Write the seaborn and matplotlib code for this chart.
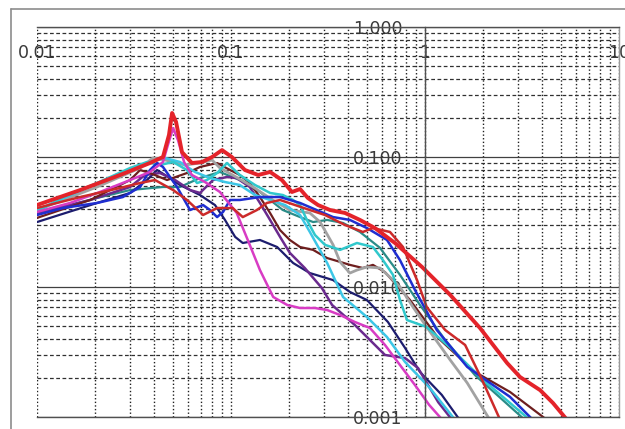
import matplotlib
matplotlib.use("Agg")
import matplotlib.pyplot as plt
import matplotlib.ticker as mticker
from matplotlib.lines import Line2D
import seaborn as sns
import pandas as pd

# ---------------- data ----------------
red_x = [0.010, 0.0167, 0.0268, 0.0382, 0.0446, 0.0479, 0.0497, 0.0521, 0.0559, 0.0629,
         0.0709, 0.0799, 0.0899, 0.101, 0.118, 0.138, 0.159, 0.183, 0.206, 0.227, 0.249,
         0.281, 0.324, 0.387, 0.462, 0.552, 0.700, 0.965, 1.35, 1.92, 2.65, 3.09, 3.92,
         4.57, 5.40]
red_y = [0.0427, 0.0557, 0.0727, 0.0899, 0.100, 0.148, 0.218, 0.186, 0.109, 0.0899,
         0.0915, 0.100, 0.113, 0.100, 0.0794, 0.0727, 0.0767, 0.0665, 0.0538, 0.0567,
         0.0484, 0.0427, 0.0391, 0.0371, 0.0328, 0.0284, 0.0218, 0.01426, 0.00868,
         0.00484, 0.0026, 0.00203, 0.00161, 0.00128, 0.00095]

crimson_x = [0.010, 0.0167, 0.0268, 0.034, 0.0406, 0.0503, 0.0593, 0.0718, 0.0848, 0.102,
             0.115, 0.136, 0.153, 0.179, 0.214, 0.255, 0.305, 0.387, 0.478, 0.539, 0.660,
             0.770, 0.910, 1.02, 1.27, 1.61, 1.97, 2.44]
crimson_y = [0.0405, 0.0492, 0.0578, 0.0631, 0.0665, 0.0557, 0.0467, 0.0358, 0.0405,
             0.0405, 0.0345, 0.0391, 0.0443, 0.0467, 0.0427, 0.0391, 0.0358, 0.030,
             0.0265, 0.0284, 0.0265, 0.0203, 0.0113, 0.00702, 0.00467, 0.00358, 0.00193,
             0.00095]

magenta_x = [0.010, 0.0148, 0.0211, 0.0302, 0.0382, 0.0446, 0.0473, 0.0503, 0.0533, 0.0573,
             0.0629, 0.0734, 0.0877, 0.107, 0.122, 0.141, 0.165, 0.195, 0.227, 0.271,
             0.313, 0.365, 0.435, 0.520, 0.622, 0.743, 0.888, 1.05, 1.27]
magenta_y = [0.0378, 0.0443, 0.0538, 0.0665, 0.0767, 0.0915, 0.124, 0.167, 0.135, 0.0915,
             0.0727, 0.0642, 0.0538, 0.0371, 0.023, 0.0135, 0.00838, 0.00727, 0.00689,
             0.00689, 0.00665, 0.00609, 0.00538, 0.00484, 0.00358, 0.00251, 0.00176,
             0.00124, 0.0009]

cyan_x = [0.010, 0.0136, 0.0204, 0.0302, 0.0369, 0.043, 0.0503, 0.0593, 0.0668, 0.0752,
          0.0848, 0.0954, 0.111, 0.133, 0.159, 0.185, 0.209, 0.227, 0.246, 0.271, 0.305,
          0.365, 0.446, 0.539, 0.607, 0.684, 0.743, 0.808, 1.02, 1.39, 1.99, 3.47]
cyan_y = [0.0378, 0.0492, 0.0631, 0.0823, 0.0915, 0.0868, 0.0915, 0.0794, 0.0631, 0.0665,
          0.0753, 0.0899, 0.0727, 0.0609, 0.0529, 0.051, 0.0467, 0.0427, 0.0328, 0.0251,
          0.0211, 0.0193, 0.0218, 0.0203, 0.0161, 0.0124, 0.00794, 0.00557, 0.00492,
          0.00328, 0.00193, 0.00095]

sky_x = [0.010, 0.0211, 0.0382, 0.0457, 0.0546, 0.0652, 0.078, 0.0931, 0.111, 0.133,
         0.159, 0.190, 0.227, 0.255, 0.313, 0.378, 0.502, 0.637, 0.789, 1.06, 1.43]
sky_y = [0.0391, 0.0642, 0.0915, 0.0982, 0.0915, 0.0767, 0.0689, 0.0642, 0.0609, 0.051,
         0.0467, 0.0427, 0.0358, 0.0265, 0.0153, 0.00838, 0.00588, 0.00412, 0.00265,
         0.00167, 0.00095]

gray_x = [0.010, 0.0204, 0.034, 0.0396, 0.0457, 0.058, 0.0692, 0.0799, 0.0877, 0.102,
          0.130, 0.164, 0.201, 0.255, 0.288, 0.336, 0.365, 0.410, 0.446, 0.502, 0.586,
          0.660, 0.743, 0.867, 1.02, 1.35, 1.65, 2.16]
gray_y = [0.0391, 0.0588, 0.0823, 0.0982, 0.0948, 0.0868, 0.0899, 0.0948, 0.0823, 0.0727,
          0.0588, 0.0467, 0.0391, 0.0371, 0.0316, 0.0211, 0.0156, 0.0128, 0.0135, 0.01426,
          0.014, 0.0119, 0.010, 0.00702, 0.00492, 0.00274, 0.00183, 0.00095]

brown_x = [0.010, 0.0188, 0.0302, 0.034, 0.0382, 0.0468, 0.0593, 0.0692, 0.0848, 0.0989,
           0.111, 0.125, 0.141, 0.159, 0.179, 0.201, 0.227, 0.265, 0.313, 0.365, 0.410,
           0.478, 0.539, 0.622, 0.837, 1.17, 1.81, 2.74, 4.25]
brown_y = [0.034, 0.0467, 0.0665, 0.0794, 0.0753, 0.0665, 0.0753, 0.0838, 0.0899, 0.0794,
           0.0727, 0.0631, 0.0492, 0.0371, 0.0274, 0.023, 0.0203, 0.0193, 0.0167, 0.0156,
           0.0148, 0.014, 0.0148, 0.0130, 0.00794, 0.00405, 0.00222, 0.00156, 0.00095]

navy_x = [0.010, 0.0204, 0.0302, 0.0369, 0.0416, 0.0457, 0.0546, 0.0692, 0.0827, 0.0931,
          0.105, 0.115, 0.141, 0.173, 0.209, 0.255, 0.336, 0.410, 0.502, 0.644, 0.789,
          0.942, 1.22, 1.51]
navy_y = [0.0316, 0.0443, 0.0529, 0.0665, 0.0794, 0.0727, 0.0609, 0.051, 0.0427, 0.0328,
          0.0243, 0.0218, 0.023, 0.0203, 0.0153, 0.0128, 0.0113, 0.00916, 0.00794,
          0.00538, 0.0034, 0.00222, 0.00148, 0.00095]

blue_x = [0.010, 0.0136, 0.0204, 0.0277, 0.034, 0.0382, 0.0416, 0.0446, 0.0527, 0.0615,
          0.0718, 0.078, 0.0848, 0.0910, 0.0989, 0.111, 0.141, 0.179, 0.227, 0.336, 0.410,
          0.502, 0.637, 0.743, 0.888, 1.15, 1.65, 2.16, 2.74, 3.60]
blue_y = [0.0358, 0.0405, 0.0443, 0.0492, 0.0588, 0.0794, 0.0899, 0.0838, 0.0588, 0.0391,
          0.0427, 0.0391, 0.0345, 0.0378, 0.0467, 0.0467, 0.0492, 0.0492, 0.0443, 0.0345,
          0.0328, 0.0284, 0.023, 0.0161, 0.00948, 0.00467, 0.00243, 0.00183, 0.00143,
          0.00095]

purple_x = [0.010, 0.0188, 0.0302, 0.036, 0.043, 0.0515, 0.0615, 0.0692, 0.0808, 0.0954,
            0.107, 0.125, 0.141, 0.159, 0.179, 0.201, 0.240, 0.294, 0.332, 0.435, 0.622,
            0.789, 0.921, 1.17, 1.38]
purple_y = [0.0371, 0.0467, 0.0588, 0.0727, 0.0753, 0.0665, 0.0557, 0.0529, 0.0665, 0.0702,
            0.0689, 0.0588, 0.0443, 0.0328, 0.0243, 0.0183, 0.014, 0.00982, 0.00727,
            0.0051, 0.003, 0.00284, 0.00238, 0.0013, 0.00095]

teal_x = [0.010, 0.0204, 0.0302, 0.0446, 0.0546, 0.0692, 0.0877, 0.111, 0.141, 0.185,
          0.227, 0.265, 0.313, 0.378, 0.462, 0.586, 0.743, 0.942, 1.27, 1.81, 3.27]
teal_y = [0.0364, 0.0484, 0.0557, 0.0588, 0.0588, 0.0689, 0.0767, 0.0665, 0.0538, 0.0391,
          0.0345, 0.0316, 0.0328, 0.0311, 0.0265, 0.020, 0.0124, 0.00727, 0.00391,
          0.0021, 0.00095]

x_ticks = [0.01, 0.1, 1, 10]
x_labels = ["0.01", "0.1", "1", "10"]
y_ticks = [0.001, 0.01, 0.1, 1]
y_labels = ["0.001", "0.010", "0.100", "1.000"]

# ---------------- styling ----------------
sns.set_theme(style="white")
plt.rcParams["font.family"] = ["DejaVu Sans"]

W, H = 625, 429
fig = plt.figure(figsize=(W / 100, H / 100), dpi=100)
fig.patch.set_facecolor("white")
ax = fig.add_axes([37 / W, 1 - 417 / H, (619 - 37) / W, (417 - 27) / H])
ax.set_facecolor("white")

series = [
    ("teal", teal_x, teal_y, "#2a8c88", 1.6),
    ("navy", navy_x, navy_y, "#1c1c6e", 1.6),
    ("purple", purple_x, purple_y, "#6a2a8e", 1.8),
    ("brown", brown_x, brown_y, "#6e1e1e", 1.6),
    ("gray", gray_x, gray_y, "#a2a2a2", 2.0),
    ("sky", sky_x, sky_y, "#3cc6e6", 1.8),
    ("cyan", cyan_x, cyan_y, "#30c8cc", 1.8),
    ("blue", blue_x, blue_y, "#1f2ed0", 1.8),
    ("magenta", magenta_x, magenta_y, "#d83cc4", 1.8),
    ("crimson", crimson_x, crimson_y, "#cc2a2a", 1.8),
    ("red", red_x, red_y, "#e4232a", 2.8),
]
for name, xs, ys, col, lw in series:
    df = pd.DataFrame({"x": xs, "y": ys})
    sns.lineplot(data=df, x="x", y="y", ax=ax, color=col, linewidth=lw,
                 sort=False, estimator=None, legend=False, solid_joinstyle="round")

ax.set_xscale("log")
ax.set_yscale("log")
ax.set_xlim(0.01, 10)
ax.set_ylim(0.001, 1)
ax.set_xlabel("")
ax.set_ylabel("")

ax.xaxis.set_major_locator(mticker.FixedLocator(x_ticks))
ax.xaxis.set_major_formatter(mticker.FixedFormatter(x_labels))
ax.xaxis.set_minor_locator(mticker.LogLocator(base=10, subs=range(2, 10), numticks=20))
ax.xaxis.set_minor_formatter(mticker.NullFormatter())
ax.yaxis.set_major_locator(mticker.FixedLocator(y_ticks))
ax.yaxis.set_major_formatter(mticker.FixedFormatter(y_labels))
ax.yaxis.set_minor_locator(mticker.LogLocator(base=10, subs=range(2, 10), numticks=20))
ax.yaxis.set_minor_formatter(mticker.NullFormatter())

# grid
ax.set_axisbelow(True)
ax.grid(which="both", axis="x", linestyle=(0, (1.0, 1.6)), color="#202020", linewidth=1.0)
ax.grid(which="minor", axis="y", linestyle=(0, (3.0, 2.0)), color="#303030", linewidth=0.9)
ax.grid(which="major", axis="y", linestyle="-", color="#404040", linewidth=0.9)

# spines: vertical axis at x=1
ax.spines["left"].set_position(("data", 1))
for s in ["left", "top", "bottom"]:
    ax.spines[s].set_color("#505050")
    ax.spines[s].set_linewidth(1.0)
ax.spines["right"].set_color("#9a9a9a")
ax.spines["right"].set_linewidth(1.0)

ax.xaxis.set_ticks_position("top")
ax.tick_params(axis="x", which="both", length=0, top=True, bottom=False,
               labeltop=True, labelbottom=False, pad=-25, labelsize=12.5,
               labelcolor="#3a3a3a")
ax.tick_params(axis="y", which="both", length=0, pad=16, labelsize=12.5,
               labelcolor="#3a3a3a")

# outer frame (gray)
fig.add_artist(Line2D([11 / W, 11 / W], [0, 1 - 9 / H], transform=fig.transFigure,
                      color="#8c8c8c", linewidth=1.2))
fig.add_artist(Line2D([11 / W, 1], [1 - 9 / H, 1 - 9 / H], transform=fig.transFigure,
                      color="#8c8c8c", linewidth=1.2))

fig.savefig("out.png", dpi=100)
